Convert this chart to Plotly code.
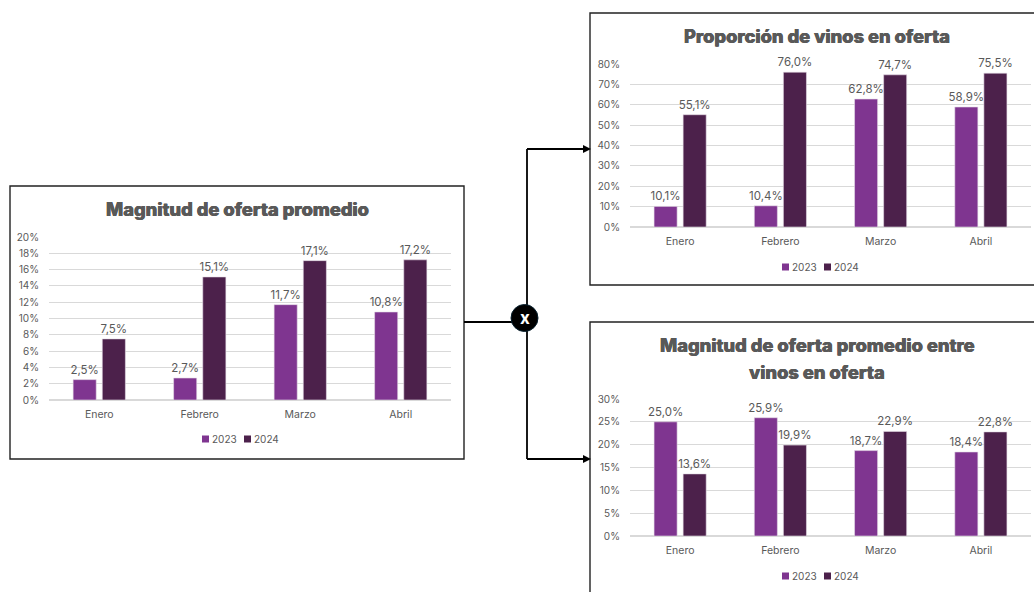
import plotly.graph_objects as go

W, H = 1034, 592
meses = ["Enero", "Febrero", "Marzo", "Abril"]
series_names = ["2023", "2024"]
colores = ["#7F3590", "#4C214B"]

magnitud_2023 = [0.025, 0.027, 0.117, 0.108]
magnitud_2024 = [0.075, 0.151, 0.171, 0.172]
proporcion_2023 = [0.101, 0.104, 0.628, 0.589]
proporcion_2024 = [0.551, 0.760, 0.747, 0.755]
entre_2023 = [0.250, 0.259, 0.187, 0.184]
entre_2024 = [0.136, 0.199, 0.229, 0.228]

GRAY = "#595959"
FONT = "Inter"

def px(x): return x / W
def py(y): return 1 - y / H

panels = [
    dict(v=[magnitud_2023, magnitud_2024], ymax=0.20, dtick=0.02, box=(49, 451, 237, 400), leg=(202, 439)),
    dict(v=[proporcion_2023, proporcion_2024], ymax=0.80, dtick=0.10, box=(630, 1031, 64, 227), leg=(782, 267)),
    dict(v=[entre_2023, entre_2024], ymax=0.30, dtick=0.05, box=(630, 1031, 399, 536), leg=(782, 576)),
]

fig = go.Figure()
layout = {}
shapes = []
annotations = []
for i, p in enumerate(panels):
    n = "" if i == 0 else str(i + 1)
    x0, x1, y0, y1 = p["box"]
    for j, name in enumerate(series_names):
        fig.add_trace(go.Bar(
            x=meses, y=p["v"][j], name=name,
            marker=dict(color=colores[j], line=dict(color="#E6DDE8", width=0.6)),
            texttemplate="%{y:.1%}", textposition="outside", constraintext="none",
            textfont=dict(family=FONT, size=11.5, color=GRAY),
            cliponaxis=False, xaxis=f"x{n}", yaxis=f"y{n}",
            showlegend=False, offsetgroup=str(j),
        ))
        lx = p["leg"][0] + j * 42
        ly = p["leg"][1]
        shapes.append(dict(type="rect", xref="paper", yref="paper",
                           x0=px(lx), x1=px(lx + 7), y0=py(ly - 3.5), y1=py(ly + 3.5),
                           fillcolor=colores[j], line=dict(width=0)))
        annotations.append(dict(text=name, x=px(lx + 8), y=py(ly), xref="paper", yref="paper",
                                xanchor="left", yanchor="middle", showarrow=False,
                                font=dict(family=FONT, size=10, color=GRAY)))
    layout[f"xaxis{n}"] = dict(
        domain=[px(x0), px(x1)], anchor=f"y{n}", type="category",
        showgrid=False, showline=False, zeroline=False, automargin=False,
        ticks="outside", ticklen=4, tickcolor="rgba(0,0,0,0)",
        tickfont=dict(family=FONT, size=10.5, color=GRAY),
    )
    layout[f"yaxis{n}"] = dict(
        domain=[py(y1), py(y0)], anchor=f"x{n}", range=[0, p["ymax"]],
        dtick=p["dtick"], tickformat=".0%", showgrid=True, automargin=False,
        gridcolor="#D9D9D9", gridwidth=1, zeroline=True, zerolinecolor="#D9D9D9",
        ticks="outside", ticklen=7, tickcolor="rgba(0,0,0,0)",
        tickfont=dict(family=FONT, size=10, color=GRAY),
    )

line = dict(color="#000000", width=1.8)
box_line = dict(color="#222222", width=1.4)
def seg(x0, y0, x1, y1):
    return dict(type="line", xref="paper", yref="paper", x0=px(x0), y0=py(y0), x1=px(x1), y1=py(y1), line=line)
def rect(x0, y0, x1, y1):
    return dict(type="rect", xref="paper", yref="paper", x0=px(x0), y0=py(y0), x1=px(x1), y1=py(y1), line=box_line, layer="below")
def tri(x, y):
    return dict(type="path", xref="paper", yref="paper",
                path=f"M {px(x-8)} {py(y-4)} L {px(x)} {py(y)} L {px(x-8)} {py(y+4)} Z",
                fillcolor="#000000", line=dict(width=0))

shapes += [
    rect(10, 186, 464, 459), rect(590, 13, 1040, 285), rect(590, 322, 1040, 600),
    seg(464, 322, 527, 322), seg(527, 149, 527, 459),
    seg(527, 149, 584, 149), seg(527, 459, 584, 459),
    tri(591, 149), tri(591, 459),
    dict(type="circle", xref="paper", yref="paper", x0=px(511), y0=py(304.5), x1=px(538), y1=py(331.5),
         fillcolor="#000000", line=dict(color="#07202E", width=1)),
]

def title(text, x, y):
    return dict(text=text, x=px(x), y=py(y), xref="paper", yref="paper",
                xanchor="center", yanchor="middle", showarrow=False,
                font=dict(family=FONT, size=18.3, weight=800, color="#595959",
                          shadow="0.35px 0 0 #595959, -0.35px 0 0 #595959"))

annotations += [
    title("Magnitud de oferta promedio", 237, 209),
    title("Proporción de vinos en oferta", 817, 36),
    title("Magnitud de oferta promedio entre", 817, 345),
    title("vinos en oferta", 817, 372),
    dict(text="<b>x</b>", x=px(524.5), y=py(318), xref="paper", yref="paper", showarrow=False,
         xanchor="center", yanchor="middle", font=dict(family=FONT, size=17, weight=900, color="#FFFFFF")),
]

fig.update_layout(
    width=W, height=H, margin=dict(l=0, r=0, t=0, b=0, autoexpand=False), autosize=False,
    paper_bgcolor="#FFFFFF", plot_bgcolor="#FFFFFF",
    barmode="group", bargap=0.42, bargroupgap=0.207, separators=",.",
    shapes=shapes, annotations=annotations, **layout,
)
fig.write_html("out.html", config={"displayModeBar": False},
               post_script="document.body.style.margin='0';document.body.style.overflow='hidden';")
